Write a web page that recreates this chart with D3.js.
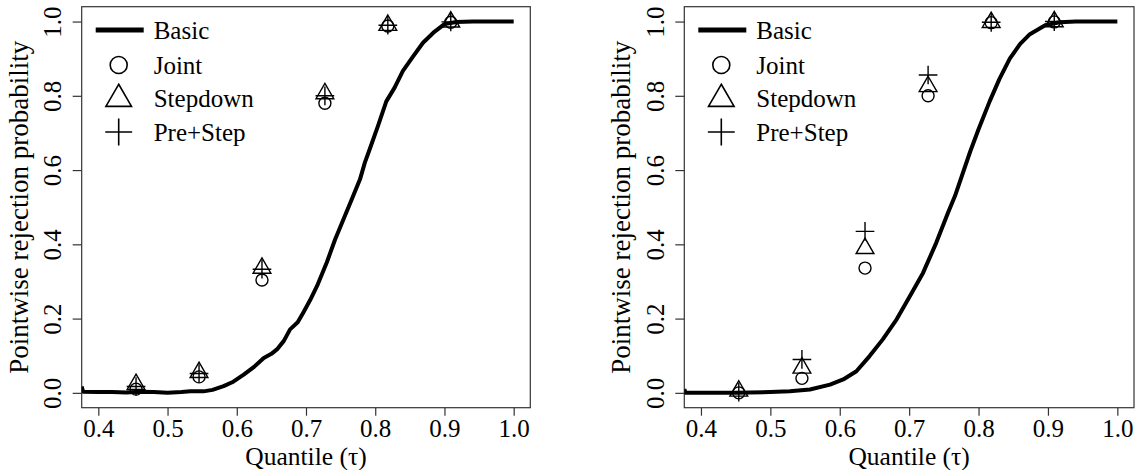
<!DOCTYPE html>
<html>
<head>
<meta charset="utf-8">
<script src="https://cdn.jsdelivr.net/npm/d3@7"></script>
<style>
  html, body { margin: 0; padding: 0; background: #fff; }
  svg { display: block; }
</style>
</head>
<body>
<svg id="chart" width="1135" height="470"></svg>
<script>
// ---------------- data ----------------
const xTicks = [0.4, 0.5, 0.6, 0.7, 0.8, 0.9, 1.0];
const yTicks = [0.0, 0.2, 0.4, 0.6, 0.8, 1.0];
const seriesNames = ["Basic", "Joint", "Stepdown", "Pre+Step"];
const tau = [0.4545, 0.5455, 0.6364, 0.7273, 0.8182, 0.9091];

// left panel
const leftJoint    = [0.010, 0.043, 0.304, 0.780, 0.988, 0.998];
const leftStepdown = [0.023, 0.055, 0.336, 0.806, 0.990, 0.999];
const leftPreStep  = [0.017, 0.052, 0.333, 0.800, 0.990, 0.999];
const leftBasicX = [0.376, 0.378, 0.40, 0.42, 0.44, 0.46, 0.48, 0.50, 0.52, 0.533, 0.552, 0.565, 0.581, 0.595, 0.610, 0.625, 0.639, 0.650, 0.658, 0.668, 0.677, 0.688, 0.696, 0.706, 0.716, 0.730, 0.742, 0.754, 0.766, 0.778, 0.785, 0.792, 0.804, 0.816, 0.828, 0.840, 0.855, 0.869, 0.884, 0.900, 0.917, 0.941, 0.965, 1.0];
const leftBasicY = [0.017, 0.003, 0.002, 0.002, 0.001, 0.003, 0.002, 0.000, 0.002, 0.004, 0.004, 0.008, 0.018, 0.030, 0.049, 0.070, 0.094, 0.105, 0.117, 0.140, 0.171, 0.190, 0.216, 0.250, 0.288, 0.351, 0.413, 0.467, 0.521, 0.575, 0.620, 0.656, 0.719, 0.785, 0.822, 0.867, 0.907, 0.943, 0.970, 0.993, 0.999, 1.000, 1.000, 1.000];

// right panel
const rightJoint    = [0.000, 0.039, 0.336, 0.800, 0.997, 0.999];
const rightStepdown = [0.005, 0.067, 0.389, 0.825, 0.998, 1.000];
const rightPreStep  = [0.002, 0.090, 0.435, 0.856, 0.998, 1.000];
const rightBasicX = [0.376, 0.378, 0.40, 0.45, 0.50, 0.528, 0.557, 0.586, 0.605, 0.624, 0.643, 0.662, 0.682, 0.701, 0.720, 0.739, 0.756, 0.766, 0.788, 0.800, 0.816, 0.830, 0.845, 0.860, 0.874, 0.896, 0.917, 0.940, 1.0];
const rightBasicY = [0.010, 0.000, 0.000, 0.000, 0.002, 0.004, 0.009, 0.022, 0.036, 0.058, 0.099, 0.144, 0.198, 0.260, 0.323, 0.404, 0.485, 0.530, 0.650, 0.710, 0.785, 0.845, 0.900, 0.940, 0.966, 0.990, 0.998, 1.000, 1.000];

// ---------------- drawing ----------------
const svg = d3.select("#chart");
const axisColor = "#333";
const serif = '"Liberation Serif"';

const panels = [
  { left: 81.7, right: 530.3, joint: leftJoint, step: leftStepdown, pre: leftPreStep, bx: leftBasicX, by: leftBasicY, id: "L" },
  { left: 684.3, right: 1134, joint: rightJoint, step: rightStepdown, pre: rightPreStep, bx: rightBasicX, by: rightBasicY, id: "R" }
];
const plotTop = 6.7, plotBottom = 407.7;

function drawSymbol(g, type, cx, cy, R, sw) {
  if (type === "circle") {
    g.append("circle").attr("cx", cx).attr("cy", cy).attr("r", R)
      .attr("fill", "none").attr("stroke", "#000").attr("stroke-width", sw);
  } else if (type === "triangle") {
    const r = 1.5551 * R, xc = 1.3468 * R, yc = 0.7776 * R;
    const p = `M${cx},${cy - r}L${cx + xc},${cy + yc}L${cx - xc},${cy + yc}Z`;
    g.append("path").attr("d", p).attr("fill", "none").attr("stroke", "#000")
      .attr("stroke-width", sw).attr("stroke-linejoin", "miter");
  } else if (type === "plus") {
    const h = 1.4142 * R;
    const p = `M${cx - h},${cy}L${cx + h},${cy}M${cx},${cy - h}L${cx},${cy + h}`;
    g.append("path").attr("d", p).attr("fill", "none").attr("stroke", "#000").attr("stroke-width", sw);
  }
}

panels.forEach(P => {
  const x = d3.scaleLinear().domain([0.376, 1.024]).range([P.left, P.right]);
  const y = d3.scaleLinear().domain([-0.04, 1.04]).range([plotBottom, plotTop]);
  const g = svg.append("g");

  g.append("clipPath").attr("id", "clip" + P.id)
    .append("rect").attr("x", P.left).attr("y", plotTop)
    .attr("width", P.right - P.left).attr("height", plotBottom - plotTop);

  // x axis
  const xAxis = d3.axisBottom(x).tickValues(xTicks).tickFormat(d3.format(".1f")).tickSize(8).tickPadding(4);
  const gx = g.append("g").attr("transform", `translate(0,${plotBottom})`).call(xAxis);
  gx.select(".domain").remove();
  gx.selectAll(".tick line").attr("stroke", axisColor).attr("stroke-width", 1.2);
  gx.selectAll(".tick text").style("font-family", serif).style("font-size", "25px")
    .attr("fill", "#000").attr("dy", null).attr("y", 29.8);

  // y axis
  const yAxis = d3.axisLeft(y).tickValues(yTicks).tickFormat(d3.format(".1f")).tickSize(9).tickPadding(4);
  const gy = g.append("g").attr("transform", `translate(${P.left},0)`).call(yAxis);
  gy.select(".domain").remove();
  gy.selectAll(".tick line").attr("stroke", axisColor).attr("stroke-width", 1.2);
  gy.selectAll(".tick text").style("font-family", serif).style("font-size", "25px")
    .attr("fill", "#000").attr("x", null).attr("dy", null)
    .attr("text-anchor", "middle")
    .attr("transform", `translate(${-20.5},0) rotate(-90)`);

  // box
  g.append("rect").attr("x", P.left).attr("y", plotTop)
    .attr("width", P.right - P.left).attr("height", plotBottom - plotTop)
    .attr("fill", "none").attr("stroke", axisColor).attr("stroke-width", 1.2);

  // axis titles
  g.append("text").attr("x", (P.left + P.right) / 2).attr("y", 465)
    .attr("text-anchor", "middle").style("font-family", serif).style("font-size", "25.5px")
    .text("Quantile (τ)");
  g.append("text").attr("transform", `translate(${P.left - 54},${(plotTop + plotBottom) / 2}) rotate(-90)`)
    .attr("text-anchor", "middle").style("font-family", serif).style("font-size", "27px")
    .text("Pointwise rejection probability");

  // basic curve
  const line = d3.line().x(d => x(d[0])).y(d => y(d[1]));
  g.append("path").datum(P.bx.map((v, i) => [v, P.by[i]]))
    .attr("clip-path", `url(#clip${P.id})`)
    .attr("d", line).attr("fill", "none").attr("stroke", "#000")
    .attr("stroke-width", 4).attr("stroke-linejoin", "round");

  // points
  const pts = g.append("g");
  tau.forEach((t, i) => {
    drawSymbol(pts, "circle", x(t), y(P.joint[i]), 6, 1.4);
    drawSymbol(pts, "triangle", x(t), y(P.step[i]), 6.6, 1.4);
    drawSymbol(pts, "plus", x(t), y(P.pre[i]), 6.6, 1.4);
  });

  // legend
  const lg = g.append("g");
  const rows = [30, 65, 98, 132];
  const symX = P.left + 37;
  lg.append("line").attr("x1", P.left + 14).attr("x2", P.left + 62)
    .attr("y1", rows[0]).attr("y2", rows[0]).attr("stroke", "#000").attr("stroke-width", 5);
  drawSymbol(lg, "circle", symX, rows[1], 8.5, 1.6);
  drawSymbol(lg, "triangle", symX, rows[2] + 1, 9.5, 1.6);
  drawSymbol(lg, "plus", symX, rows[3], 9.5, 1.6);
  seriesNames.forEach((n, i) => {
    lg.append("text").attr("x", P.left + 72).attr("y", rows[i] + 8.5)
      .style("font-family", serif).style("font-size", "25px").text(n);
  });
});
</script>
</body>
</html>
